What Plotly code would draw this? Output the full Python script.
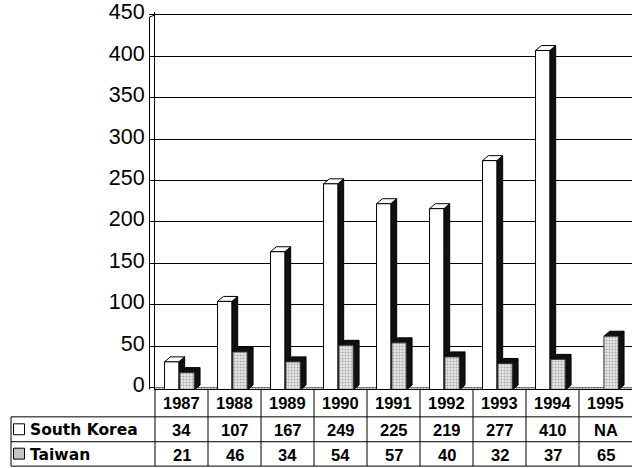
import plotly.graph_objects as go

years = ["1987", "1988", "1989", "1990", "1991", "1992", "1993", "1994", "1995"]
south_korea = [34, 107, 167, 249, 225, 219, 277, 410, None]
taiwan = [21, 46, 34, 54, 57, 40, 32, 37, 65]
y_ticks = [0, 50, 100, 150, 200, 250, 300, 350, 400, 450]
series_names = ["South Korea", "Taiwan"]

# geometry of the pseudo-3D bars (category units / value units)
SK_L, SK_R = -0.32, -0.05
TW_L, TW_R = -0.03, 0.24
DX, DY = 0.11, 6

def faces(vals, l, r):
    fx, fy, tx, ty, sx, sy = [], [], [], [], [], []
    for i, v in enumerate(vals):
        if v is None:
            continue
        a, b = i + l, i + r
        fx += [a, b, b, a, a, None]
        fy += [0, 0, v, v, 0, None]
        tx += [a, a + DX, b + DX, b, a, None]
        ty += [v, v + DY, v + DY, v, v, None]
        sx += [b, b + DX, b + DX, b, b, None]
        sy += [0, DY, v + DY, v, 0, None]
    return fx, fy, tx, ty, sx, sy

fig = go.Figure()
n = len(years)

# floor strip (on the wall axis, between its -3 and 0)
fig.add_trace(go.Scatter(
    x=[-0.5, n - 0.5, n - 0.5, -0.5, -0.5], y=[-3, -3, 0, 0, -3],
    mode="lines", fill="toself", line=dict(width=0),
    fillcolor="#bbbbbb",
    fillpattern=dict(shape=".", bgcolor="#ffffff", fgcolor="#444444", size=3, solidity=0.4),
    hoverinfo="skip", showlegend=False))

skf = faces(south_korea, SK_L, SK_R)
twf = faces(taiwan, TW_L, TW_R)

def poly(x, y, fill, line="#000000", pattern=None):
    kw = dict(x=x, y=y, yaxis="y2", mode="lines", fill="toself",
              fillcolor=fill, line=dict(color=line, width=1),
              hoverinfo="skip", showlegend=False)
    if pattern:
        kw["fillpattern"] = pattern
    return go.Scatter(**kw)

fig.add_trace(poly(skf[4], skf[5], "#111111"))
fig.add_trace(poly(skf[2], skf[3], "#ffffff"))
fig.add_trace(poly(skf[0], skf[1], "#ffffff"))
fig.add_trace(poly(twf[4], twf[5], "#111111"))
fig.add_trace(poly(twf[2], twf[3], "#111111"))
fig.add_trace(poly(twf[0], twf[1], "#d8d8d8", line="#333333",
                   pattern=dict(shape=".", bgcolor="#e8e8e8", fgcolor="#666666",
                                size=3, solidity=0.35)))

# pixel -> paper helpers
PL, PR, PT, PB = 155, 632, 10, 390
def px(xp):
    return (xp - PL) / (PR - PL)
def py(yp):
    return (PB - yp) / (PB - PT)

shapes = []
def hline(x0, x1, y):
    shapes.append(dict(type="line", xref="paper", yref="paper", x0=px(x0), x1=px(x1),
                       y0=py(y), y1=py(y), line=dict(color="#000000", width=1)))
def vline(x, y0, y1):
    shapes.append(dict(type="line", xref="paper", yref="paper", x0=px(x), x1=px(x),
                       y0=py(y0), y1=py(y1), line=dict(color="#000000", width=1)))

# outer wall edge
vline(149.5, 389.5, 15)
shapes.append(dict(type="line", xref="paper", yref="paper", x0=px(149.5), x1=px(155),
                   y0=py(15), y1=py(13), line=dict(color="#000000", width=1)))
# table grid
hline(155, 632, 389.5)
hline(11, 632, 417)
hline(11, 632, 442)
hline(11, 632, 466.5)
vline(11, 417, 466.5)
col_w = (PR - PL) / n
for k in range(n):
    vline(PL + k * col_w, 389.5, 466.5)

# legend keys
shapes.append(dict(type="rect", xref="paper", yref="paper", x0=px(13.5), x1=px(24.5),
                   y0=py(435), y1=py(424), fillcolor="#ffffff",
                   line=dict(color="#000000", width=1)))
shapes.append(dict(type="rect", xref="paper", yref="paper", x0=px(13.5), x1=px(24.5),
                   y0=py(459.5), y1=py(448.5), fillcolor="#c4c4c4",
                   line=dict(color="#000000", width=1)))

FONT = "Liberation Sans, Arial, sans-serif"
ann = []
for i, yr in enumerate(years):
    ann.append(dict(x=i, y=py(403.5), xref="x", yref="paper", text="<b>%s</b>" % yr,
                    showarrow=False, xanchor="center", yanchor="middle",
                    font=dict(family=FONT, size=16.5, color="#000000")))
    skv = south_korea[i]
    ann.append(dict(x=i, y=py(430), xref="x", yref="paper",
                    text="<b>%s</b>" % (str(skv) if skv is not None else "NA"),
                    showarrow=False, xanchor="center", yanchor="middle",
                    font=dict(family=FONT, size=16.5, color="#000000")))
    ann.append(dict(x=i, y=py(455), xref="x", yref="paper", text="<b>%s</b>" % taiwan[i],
                    showarrow=False, xanchor="center", yanchor="middle",
                    font=dict(family=FONT, size=16.5, color="#000000")))
for name, yc in zip(series_names, [430, 455]):
    ann.append(dict(x=px(28), y=py(yc), xref="paper", yref="paper", text="<b>%s</b>" % name,
                    showarrow=False, xanchor="left", yanchor="middle",
                    font=dict(family="DejaVu Sans, sans-serif", size=15.5, color="#000000")))

fig.update_layout(
    width=632, height=468,
    margin=dict(l=PL, r=632 - PR, t=PT, b=468 - PB),
    paper_bgcolor="#ffffff", plot_bgcolor="#ffffff",
    showlegend=False,
    xaxis=dict(range=[-0.5, n - 0.5], showgrid=False, zeroline=False,
               showticklabels=False, ticks="", showline=False, fixedrange=True),
    yaxis=dict(range=[-3, 453.5], tickmode="array", tickvals=y_ticks,
               ticktext=[str(t) for t in y_ticks],
               showgrid=True, gridcolor="#000000", gridwidth=1, zeroline=False,
               showline=True, linecolor="#000000", linewidth=1,
               ticks="outside", ticklen=5, tickcolor="#000000",
               ticklabelshift=-3, ticklabeloverflow="allow",
               tickfont=dict(family=FONT, size=21.5, color="#000000")),
    yaxis2=dict(range=[0, 456.5], overlaying="y", visible=False, showgrid=False),
    shapes=shapes,
    annotations=ann,
)

fig.write_html("out.html", post_script="document.body.style.margin='0';",
               config={"displayModeBar": False})
